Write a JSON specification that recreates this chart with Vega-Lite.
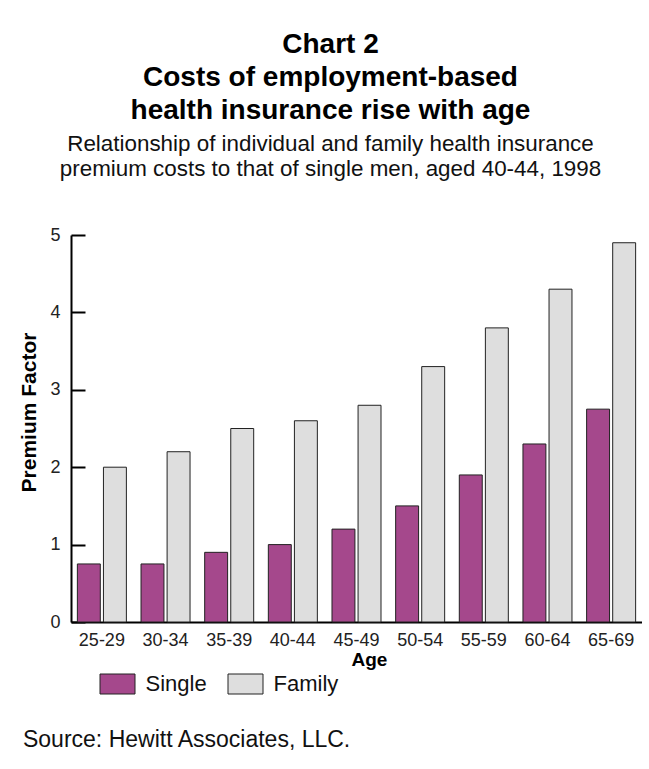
{
  "$schema": "https://vega.github.io/schema/vega-lite/v6.json",
  "background": "white",
  "padding": {"left": 18, "top": 30, "right": 0, "bottom": 20},
  "config": {
    "font": "Liberation Sans",
    "view": {"stroke": null},
    "concat": {"spacing": 0}
  },
  "title": {
    "text": ["Chart 2", "Costs of employment-based", "health insurance rise with age"],
    "subtitle": ["Relationship of individual and family health insurance", "premium costs to that of single men, aged 40-44, 1998"],
    "anchor": "middle",
    "frame": "bounds",
    "font": "Liberation Sans",
    "fontSize": 28,
    "fontWeight": "bold",
    "lineHeight": 33,
    "color": "#000000",
    "subtitleFont": "Liberation Sans",
    "subtitleFontSize": 22.4,
    "subtitleLineHeight": 25,
    "subtitleColor": "#111111",
    "subtitlePadding": 8,
    "offset": 46
  },
  "vconcat": [
    {
      "title": {
        "text": "Source: Hewitt Associates, LLC.",
        "orient": "bottom",
        "anchor": "start",
        "frame": "bounds",
        "dx": 4,
        "font": "Liberation Sans",
        "fontSize": 23,
        "fontWeight": "normal",
        "color": "#111111",
        "offset": 60
      },
      "width": 571,
      "height": 387,
      "data": {
        "values": [
          {"age": "25-29", "series": "Single", "factor": 0.75},
          {"age": "25-29", "series": "Family", "factor": 2.0},
          {"age": "30-34", "series": "Single", "factor": 0.75},
          {"age": "30-34", "series": "Family", "factor": 2.2},
          {"age": "35-39", "series": "Single", "factor": 0.9},
          {"age": "35-39", "series": "Family", "factor": 2.5},
          {"age": "40-44", "series": "Single", "factor": 1.0},
          {"age": "40-44", "series": "Family", "factor": 2.6},
          {"age": "45-49", "series": "Single", "factor": 1.2},
          {"age": "45-49", "series": "Family", "factor": 2.8},
          {"age": "50-54", "series": "Single", "factor": 1.5},
          {"age": "50-54", "series": "Family", "factor": 3.3},
          {"age": "55-59", "series": "Single", "factor": 1.9},
          {"age": "55-59", "series": "Family", "factor": 3.8},
          {"age": "60-64", "series": "Single", "factor": 2.3},
          {"age": "60-64", "series": "Family", "factor": 4.3},
          {"age": "65-69", "series": "Single", "factor": 2.75},
          {"age": "65-69", "series": "Family", "factor": 4.9}
        ]
      },
      "mark": {"type": "bar", "stroke": "#222222", "strokeWidth": 1},
      "encoding": {
        "x": {
          "field": "age",
          "type": "nominal",
          "sort": null,
          "scale": {"paddingInner": 0.23, "paddingOuter": 0.1},
          "axis": {
            "title": "Age",
            "titleFontSize": 19,
            "titleFontWeight": "bold",
            "titleColor": "#000000",
            "titlePadding": 1,
            "titleX": 298,
            "labelAngle": 0,
            "labelFontSize": 18,
            "labelColor": "#222222",
            "labelPadding": 9,
            "ticks": false,
            "domainColor": "#000000",
            "domainWidth": 2
          }
        },
        "xOffset": {
          "field": "series",
          "type": "nominal",
          "sort": ["Single", "Family"],
          "scale": {"paddingInner": 0.12}
        },
        "y": {
          "field": "factor",
          "type": "quantitative",
          "scale": {"domain": [0, 5]},
          "axis": {
            "title": "Premium Factor",
            "titleFontSize": 21,
            "titleFontWeight": "bold",
            "titleColor": "#000000",
            "titlePadding": 10,
            "titleY": 177,
            "values": [0, 1, 2, 3, 4, 5],
            "grid": false,
            "tickSize": -14,
            "tickWidth": 2,
            "tickColor": "#000000",
            "labelPadding": 25,
            "labelFontSize": 18,
            "labelColor": "#222222",
            "domainColor": "#000000",
            "domainWidth": 2
          }
        },
        "color": {
          "field": "series",
          "type": "nominal",
          "sort": ["Single", "Family"],
          "scale": {"range": ["#A5488C", "#DEDEDE"]},
          "legend": {
            "title": null,
            "orient": "none",
            "direction": "horizontal",
            "legendX": 35.5,
            "legendY": 438,
            "symbolType": "M-1.75,-1H1.75V1H-1.75Z",
            "symbolSize": 400,
            "symbolStrokeColor": "#222222",
            "symbolStrokeWidth": 1,
            "symbolOpacity": 1,
            "labelFontSize": 22,
            "labelColor": "#111111",
            "labelOffset": 17,
            "columnPadding": 18
          }
        }
      }
    }
  ]
}
